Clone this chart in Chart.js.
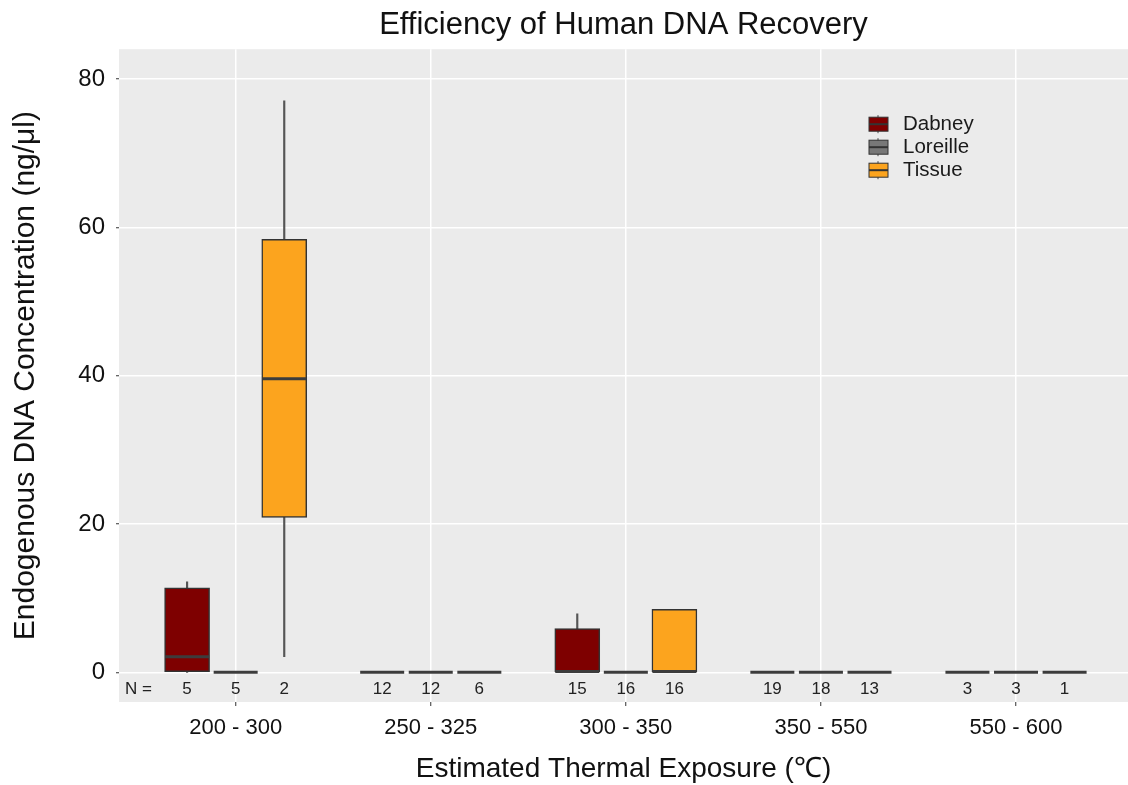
<!DOCTYPE html>
<html>
<head>
<meta charset="utf-8">
<script src="https://cdn.jsdelivr.net/npm/chart.js@4"></script>
<style>
  body { margin: 0; background: #fff; }
  #wrap { width: 1128px; height: 785px; }
</style>
</head>
<body>
<div id="wrap"><canvas id="boxChart" width="1128" height="785"></canvas></div>
<script>
// Thermal exposure bins (x categories)
const categories = ['200 - 300', '250 - 325', '300 - 350', '350 - 550', '550 - 600'];
const groups = ['Dabney', 'Loreille', 'Tissue'];

// five-number summaries per bin: [min, q1, median, q3, max] (ng/ul)
const dabneyStats = [
    [0, 0, 2.1, 11.4, 12.2],
    [0, 0, 0, 0, 0],
    [0, 0, 0.1, 5.9, 7.9],
    [0, 0, 0, 0, 0],
    [0, 0, 0, 0, 0]
];
const loreilleStats = [
    [0, 0, 0, 0, 0],
    [0, 0, 0, 0, 0],
    [0, 0, 0, 0, 0],
    [0, 0, 0, 0, 0],
    [0, 0, 0, 0, 0]
];
const tissueStats = [
    [2.1, 20.9, 39.6, 58.4, 77.1],
    [0, 0, 0, 0, 0],
    [0, 0, 0.1, 8.5, 8.5],
    [0, 0, 0, 0, 0],
    [0, 0, 0, 0, 0]
];

// sample counts shown under each box
const dabneyN = [5, 12, 15, 19, 3];
const loreilleN = [5, 12, 16, 18, 3];
const tissueN = [2, 6, 16, 13, 1];

const yTicks = [0, 20, 40, 60, 80];

const FONT = "'Liberation Sans', Arial, sans-serif";
const colors = ['#7e0000', '#787878', '#fca41e'];
const offsets = [-0.249, 0, 0.249];
const allStats = [dabneyStats, loreilleStats, tissueStats];
const allN = [dabneyN, loreilleN, tissueN];

// build box / whisker / median datasets for each group
const datasets = [];
groups.forEach((g, k) => {
    const stats = allStats[k];
    datasets.push({
        type: 'bar', label: g,
        data: stats.map((s, i) => ({ x: i + offsets[k], y: [s[1], s[3]] })),
        backgroundColor: colors[k], borderColor: '#333', borderWidth: 1.5,
        borderSkipped: false, barThickness: 45, grouped: false, order: 2
    });
    datasets.push({
        type: 'bar', label: g + ' whisker low',
        data: stats.map((s, i) => ({ x: i + offsets[k], y: [s[0], s[1]] })),
        backgroundColor: '#555', borderWidth: 0, barThickness: 1.5, grouped: false, order: 3
    });
    datasets.push({
        type: 'bar', label: g + ' whisker high',
        data: stats.map((s, i) => ({ x: i + offsets[k], y: [s[3], s[4]] })),
        backgroundColor: '#555', borderWidth: 0, barThickness: 1.5, grouped: false, order: 3
    });
    datasets.push({
        type: 'scatter', label: g + ' median',
        data: stats.map((s, i) => ({ x: i + offsets[k], y: s[2] })),
        pointStyle: 'line', pointRadius: 22, borderWidth: 3, borderColor: '#3c3c3c', order: 1
    });
});

// grey ggplot-like panel
const panelBg = {
    id: 'panelBg',
    beforeDraw(chart) {
        const { ctx, chartArea: a } = chart;
        ctx.save();
        ctx.fillStyle = '#ebebeb';
        ctx.fillRect(a.left, a.top, a.right - a.left, a.bottom - a.top);
        ctx.restore();
    }
};

// N = counts under the boxes and the legend
const extras = {
    id: 'extras',
    afterDraw(chart) {
        const { ctx, chartArea: a, scales: { x, y } } = chart;
        ctx.save();
        ctx.fillStyle = '#222';
        ctx.font = '17px ' + FONT;
        ctx.textBaseline = 'middle';
        const ny = y.getPixelForValue(-2.3);
        ctx.textAlign = 'left';
        ctx.fillText('N =', a.left + 6, ny);
        ctx.textAlign = 'center';
        allN.forEach((arr, k) => {
            arr.forEach((n, i) => ctx.fillText(String(n), x.getPixelForValue(i + offsets[k]), ny));
        });

        // legend
        const kx = a.right - 260;
        groups.forEach((g, k) => {
            const cy = a.top + 75 + k * 23;
            ctx.strokeStyle = '#444';
            ctx.lineWidth = 1;
            ctx.beginPath();
            ctx.moveTo(kx + 10, cy - 9); ctx.lineTo(kx + 10, cy + 9);
            ctx.stroke();
            ctx.fillStyle = colors[k];
            ctx.fillRect(kx + 1, cy - 7, 19, 14);
            ctx.strokeStyle = '#333';
            ctx.lineWidth = 1;
            ctx.strokeRect(kx + 1, cy - 7, 19, 14);
            ctx.lineWidth = 2;
            ctx.beginPath();
            ctx.moveTo(kx + 1, cy); ctx.lineTo(kx + 20, cy);
            ctx.stroke();
            ctx.fillStyle = '#1a1a1a';
            ctx.font = '20.5px ' + FONT;
            ctx.textAlign = 'left';
            ctx.fillText(g, kx + 35, cy);
        });
        ctx.restore();
    }
};

new Chart(document.getElementById('boxChart'), {
    type: 'bar',
    data: { datasets: datasets },
    options: {
        responsive: false,
        animation: false,
        events: [],
        layout: { autoPadding: false, padding: { left: 0, right: 0, top: 0, bottom: 0 } },
        plugins: {
            legend: { display: false },
            tooltip: { enabled: false },
            title: {
                display: true,
                fullSize: false,
                text: 'Efficiency of Human DNA Recovery',
                color: '#111',
                font: { family: FONT, size: 31, weight: 'normal' },
                padding: { top: 7, bottom: 5 }
            }
        },
        scales: {
            x: {
                type: 'linear',
                min: -0.598, max: 4.574,
                offset: false,
                afterBuildTicks: (s) => { s.ticks = categories.map((c, i) => ({ value: i })); },
                afterFit: (s) => { s.height = 83; s.paddingLeft = 0; s.paddingRight = 0; },
                grid: { color: '#fff', lineWidth: 1.5, offset: false, tickColor: '#333', tickLength: 4, tickWidth: 1 },
                border: { display: false },
                ticks: {
                    padding: 9,
                    color: '#111',
                    font: { family: FONT, size: 22 },
                    callback: (v) => categories[v]
                },
                title: {
                    display: true,
                    text: 'Estimated Thermal Exposure (\u2103)',
                    color: '#111',
                    font: { family: FONT, size: 28, lineHeight: 1.1 },
                    padding: { top: 0, bottom: 0 }
                }
            },
            y: {
                min: -4, max: 84.05,
                afterBuildTicks: (s) => { s.ticks = yTicks.map(v => ({ value: v })); },
                afterFit: (s) => { s.width = 119; },
                grid: { color: '#fff', lineWidth: 1.5, tickColor: '#333', tickLength: 3, tickWidth: 1 },
                border: { display: false },
                ticks: { padding: 11, color: '#111', font: { family: FONT, size: 24 } },
                title: {
                    display: true,
                    text: 'Endogenous DNA Concentration (ng/\u03bcl)',
                    color: '#111',
                    font: { family: FONT, size: 30 },
                    padding: { top: 8, bottom: 0 }
                }
            }
        }
    },
    plugins: [panelBg, extras]
});
</script>
</body>
</html>
